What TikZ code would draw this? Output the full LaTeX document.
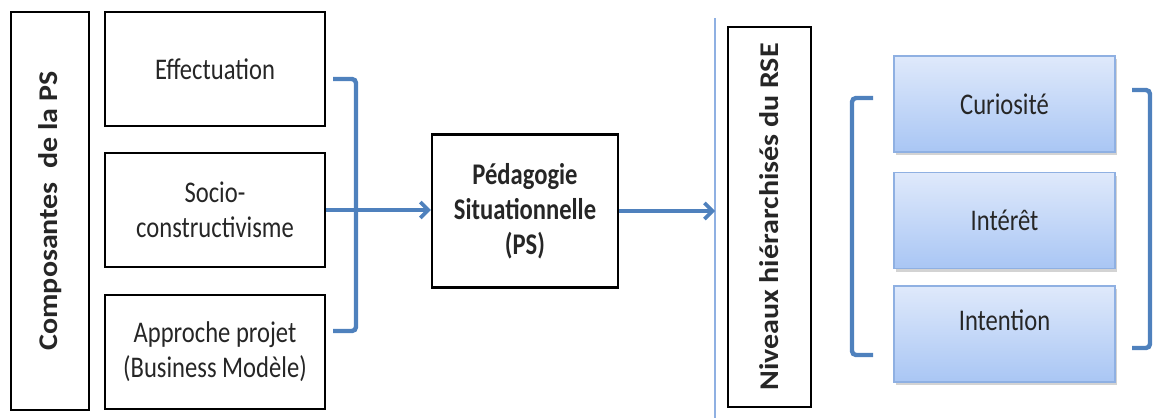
\documentclass[tikz,border=0pt]{standalone}
\usepackage{fontspec}
\setmainfont[FakeStretch=0.82]{Carlito}
\newfontfamily\vertfont{Carlito}
\usepackage{tikz}
\usetikzlibrary{shadows,arrows.meta}

\definecolor{lienbleu}{HTML}{4F81BD}
\definecolor{haut}{HTML}{DFE9FB}
\definecolor{bas}{HTML}{A9C6F4}
\definecolor{bord}{HTML}{8FB0E2}
\definecolor{texte}{HTML}{262626}

\begin{document}
\begin{tikzpicture}[x=0.5pt,y=-0.5pt,
    boite/.style={rectangle,draw,line width=1.2pt,align=center,text=texte,font=\fontsize{15}{17.5}\selectfont},
    niveau/.style={rectangle,draw=bord,line width=0.6pt,top color=haut,bottom color=bas,text=texte,
        minimum width=110.5pt,minimum height=48pt,font=\fontsize{15}{17.5}\selectfont,
        drop shadow={opacity=0.35,shadow xshift=0.8pt,shadow yshift=-1.5pt}},
    lien/.style={draw=lienbleu,line width=1.8pt,-{Straight Barb[length=4pt,width=8pt]}},
    crochet/.style={draw=lienbleu,line width=2.2pt,rounded corners=2pt}]
\useasboundingbox (0,0) rectangle (1153,418);
% Composantes
\node[boite,minimum width=39pt,minimum height=199pt] (comp) at (50,211)
    {\rotatebox{90}{\scalebox{1}[0.9]{\vertfont\fontsize{15}{18}\selectfont\bfseries Composantes~~de la PS}}};
\foreach \n/\y/\t in {eff/69/Effectuation,
                      socio/210/{Socio-\\constructivisme},
                      appr/352/{Approche projet\\(Business Modèle)}}
    \node[boite,minimum width=110pt,minimum height=57pt] (\n) at (215,\y) {\t};
% Crochet gauche
\draw[crochet] (333,79) -- (356,79) -- (356,331) -- (333,331);
% Pédagogie situationnelle
\node[boite,minimum width=93pt,minimum height=76.5pt,font=\fontsize{15}{17.5}\selectfont\bfseries] (ps) at (525,211)
    {Pédagogie\\Situationnelle\\(PS)};
\draw[lien] (socio.east) -- (socio.east -| ps.west);
% Séparation
\coordinate (sephaut) at (715,18);
\coordinate (sepbas) at (715,418);
\draw[bord,line width=0.6pt] (sephaut) -- (sepbas);
\draw[lien] (ps.east) -- (ps.east -| sephaut);
% Niveaux RSE
\node[boite,minimum width=41.5pt,minimum height=190pt] (niv) at (769.5,217)
    {\rotatebox{90}{\scalebox{1}[0.9]{\vertfont\fontsize{15}{18}\selectfont\bfseries Niveaux hiérarchisés du RSE}}};
\foreach \n/\y/\t in {cur/104/Curiosité,int/220.5/Intérêt}
    \node[niveau] (\n) at (1004.5,\y) {\t};
\node[niveau,text depth=14pt] (inten) at (1004.5,334) {Intention};
% Crochets
\draw[crochet] (873,98) -- (852,98) -- (852,355) -- (873,355);
\draw[crochet] (1132,90) -- (1150,90) -- (1150,348) -- (1132,348);
\end{tikzpicture}
\end{document}
